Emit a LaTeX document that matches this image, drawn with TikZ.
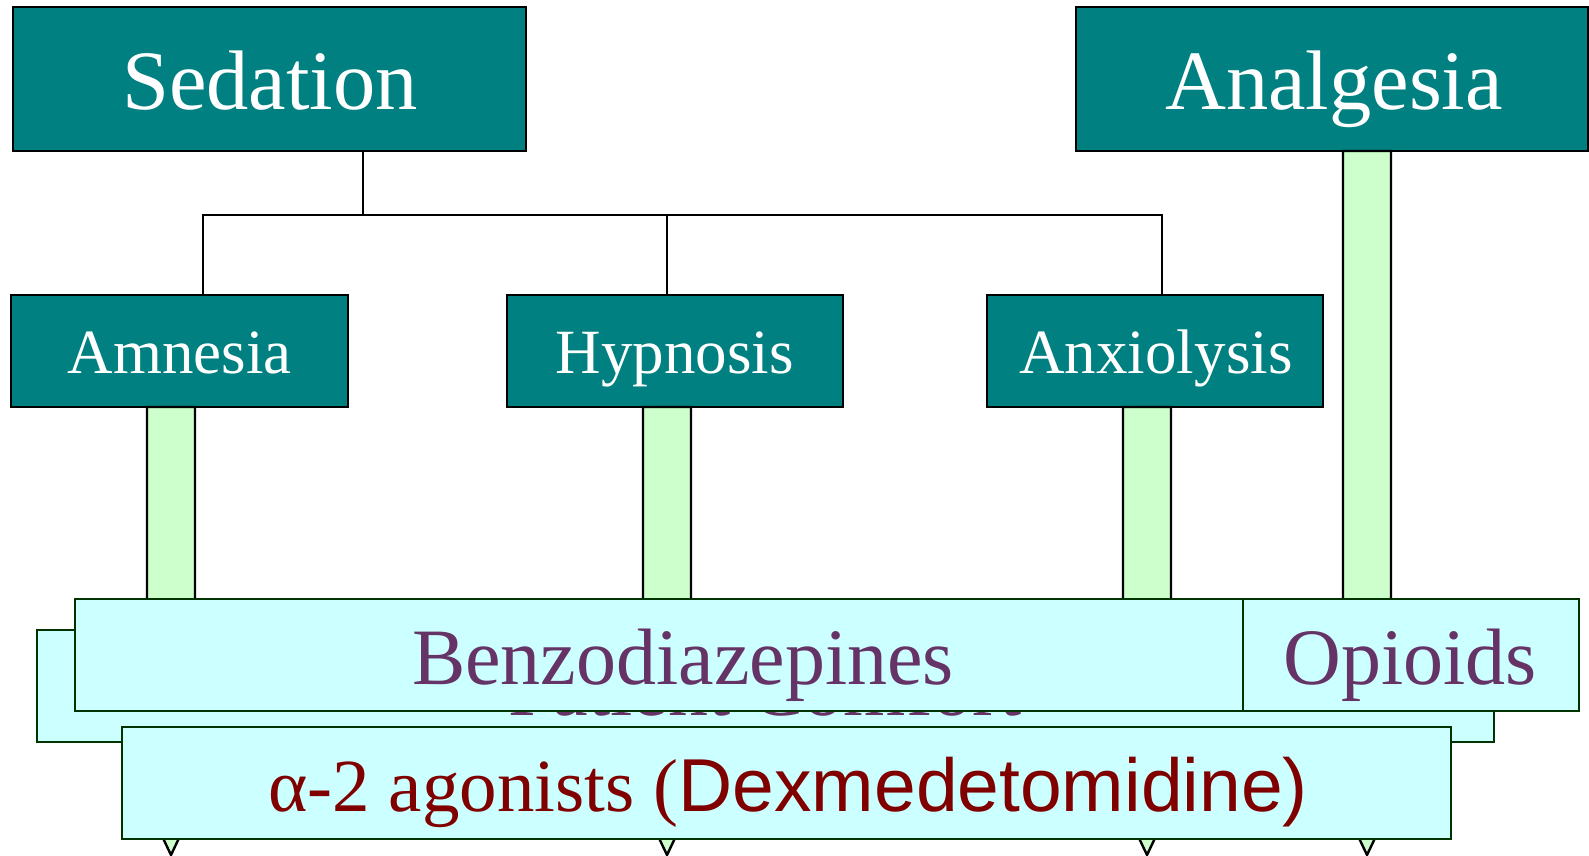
\documentclass[tikz,border=0pt]{standalone}
\usepackage{fontspec}
\setmainfont{Liberation Serif}
\newfontfamily\arialf{Liberation Sans}
\usetikzlibrary{fit}
\definecolor{tealc}{HTML}{008080}
\definecolor{greenc}{HTML}{CCFFCC}
\definecolor{cyanc}{HTML}{CCFFFF}
\definecolor{dgreen}{HTML}{003300}
\definecolor{purp}{HTML}{663366}
\definecolor{dred}{HTML}{800000}
\tikzset{
  tealbox/.style={draw=black, fill=tealc, line width=1.3pt, inner sep=0pt, outer sep=0pt},
  cyanbox/.style={draw=dgreen, fill=cyanc, line width=1.3pt, inner sep=0pt, outer sep=0pt},
  greenarrow/.style={draw=black, fill=greenc, line width=1.2pt, line join=miter},
  conn/.style={draw=black, line width=0.8pt},
  bigtxt/.style={text=white, font=\fontsize{42.25}{50}\selectfont, anchor=base, inner sep=0pt},
  midtxt/.style={text=white, font=\fontsize{31.5}{38}\selectfont, anchor=base, inner sep=0pt},
  drugtxt/.style={text=purp, font=\fontsize{40}{48}\selectfont, anchor=base, inner sep=0pt},
}
\begin{document}
\begin{tikzpicture}[x=0.5pt,y=-0.5pt]
\useasboundingbox[fill=white] (0,0) rectangle (1589,856);
% top boxes
\node[tealbox, fit={(13,7) (526,151)}] (sed) {};
\node[tealbox, fit={(1076,7) (1588,151)}] (ana) {};
\node[bigtxt] (sedt) at (270,110) {Sedation};
\node[bigtxt] (anat) at (1334,110) {Analgesia};
% second row
\node[tealbox, fit={(11,295) (348,407)}] (amn) {};
\node[tealbox, fit={(507,295) (843,407)}] (hyp) {};
\node[tealbox, fit={(987,295) (1323,407)}] (anx) {};
\node[midtxt] (amnt) at (179.5,373) {Amnesia};
\node[midtxt] (hypt) at (675,373) {Hypnosis};
\node[midtxt] (anxt) at (1156,373) {Anxiolysis};
% connectors
\coordinate (j0) at (363,215);
\coordinate (bL) at (203,215);
\coordinate (bM) at (667,215);
\coordinate (bR) at (1162,215);
\draw[conn] (sed.south -| j0) -- (j0);
\draw[conn] (amn.north -| bL) -- (bL) -- (bR) -- (anx.north -| bR);
\draw[conn] (bM) -- (hyp.north -| bM);
% green block arrows
\foreach \n/\cx in {amn/171, hyp/667, anx/1147, ana/1367}{
  \draw[greenarrow] (\n.south -| \cx-24,0) -- (\n.south -| \cx+24,0) -- (\cx+24,760) -- (\cx+45,760) -- (\cx,855) -- (\cx-45,760) -- (\cx-24,760) -- cycle;
}
% patient comfort (behind)
\node[cyanbox, fit={(37,630) (1494,742)}] (pc) {};
\node[drugtxt] (pct) at (765,715) {Patient Comfort};
% benzodiazepines and opioids
\node[cyanbox, fit={(75,599) (1243,711)}] (benz) {};
\node[cyanbox, fit={(1243,599) (1579,711)}] (opi) {};
\node[drugtxt] (benzt) at (683,684) {Benzodiazepines};
\node[drugtxt] (opit) at (1410,684) {Opioids};
% alpha-2 agonists
\node[cyanbox, fit={(122,727) (1451,839)}] (alp) {};
\node[text=dred, anchor=base west, inner sep=0pt, font=\fontsize{37.5}{45}\selectfont] (alpt) at (268,811) {α-2 agonists ({\arialf Dexmedetomidine)}};
\end{tikzpicture}
\end{document}
